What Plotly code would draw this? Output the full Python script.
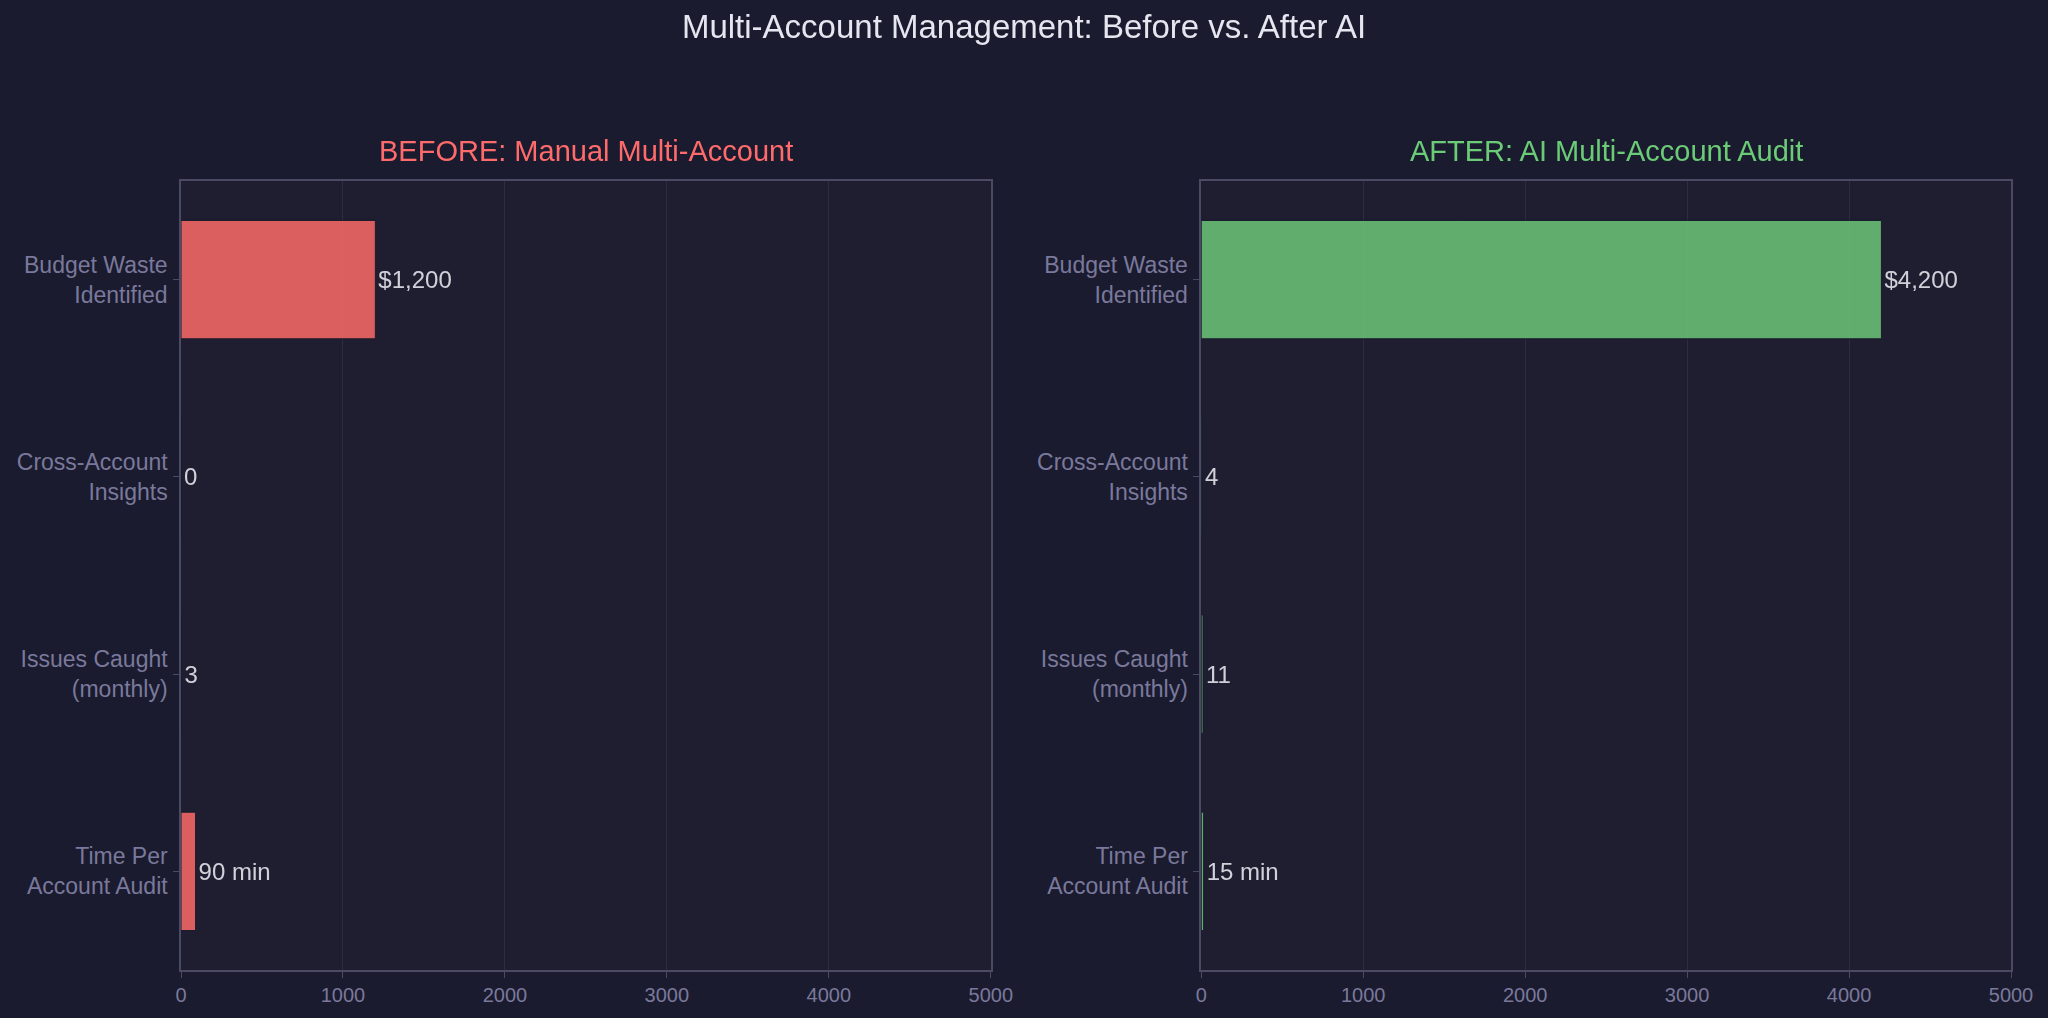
import plotly.graph_objects as go
from plotly.subplots import make_subplots

# categories listed bottom -> top (plotly draws first category at bottom)
metrics = ["Time Per<br>Account Audit", "Issues Caught<br>(monthly)",
           "Cross-Account<br>Insights", "Budget Waste<br>Identified"]

before_vals = [90, 3, 0, 1200]
before_text = ["90 min", "3", "0", "$1,200"]

after_vals = [15, 11, 4, 4200]
after_text = ["15 min", "11", "4", "$4,200"]

red = "#ff6b6b"
green = "#6bcb77"
paper = "#1a1b2e"
plotbg = "#1f1e31"
muted = "#7a799c"

fig = make_subplots(rows=1, cols=2, horizontal_spacing=0.115,
                    subplot_titles=["BEFORE: Manual Multi-Account",
                                    "AFTER: AI Multi-Account Audit"])

fig.add_trace(go.Bar(y=metrics, x=before_vals, text=before_text, orientation="h",
                     marker=dict(color="#f86a66", line=dict(color=paper, width=1)),
                     opacity=0.87, width=0.6, textposition="outside",
                     cliponaxis=False, showlegend=False), row=1, col=1)
fig.add_trace(go.Bar(y=metrics, x=after_vals, text=after_text, orientation="h",
                     marker=dict(color="#6cc377", line=dict(color=paper, width=1)),
                     opacity=0.87, width=0.6, textposition="outside",
                     cliponaxis=False, showlegend=False), row=1, col=2)

fig.update_traces(textfont=dict(size=24, color="#ececf4"))

fig.update_xaxes(range=[0, 5000], dtick=1000, showgrid=True, gridcolor="#2d2c40",
                 showline=True, linecolor="#4b4a64", linewidth=1.5, mirror=True,
                 ticks="outside", ticklen=6, tickcolor="#4b4a64",
                 tickfont=dict(size=20, color=muted), zeroline=False)
fig.update_yaxes(showgrid=False, showline=True, linecolor="#4b4a64", linewidth=1.5,
                 mirror=True, ticks="outside", ticklen=6, tickcolor="#4b4a64",
                 ticklabelstandoff=1,
                 tickfont=dict(size=23, color=muted))

# subplot title colours
for ann, col in zip(fig.layout.annotations, [red, green]):
    ann.font = dict(size=29, color=col)
    ann.yshift = 12

fig.update_layout(
    title=dict(text="Multi-Account Management: Before vs. After AI",
               x=0.5, xanchor="center", y=0.974, yanchor="middle",
               font=dict(size=33, color="#e6e6f0")),
    font=dict(family="Liberation Sans, Arial, sans-serif"),
    paper_bgcolor=paper, plot_bgcolor=plotbg,
    width=2048, height=1018,
    margin=dict(l=181, r=37, t=181, b=48),
)

fig.write_html("out.html", config={"displayModeBar": False},
               post_script="document.body.style.margin='0';"
                           "document.body.style.background='#1a1b2e';"
                           "document.body.style.overflow='hidden';")
